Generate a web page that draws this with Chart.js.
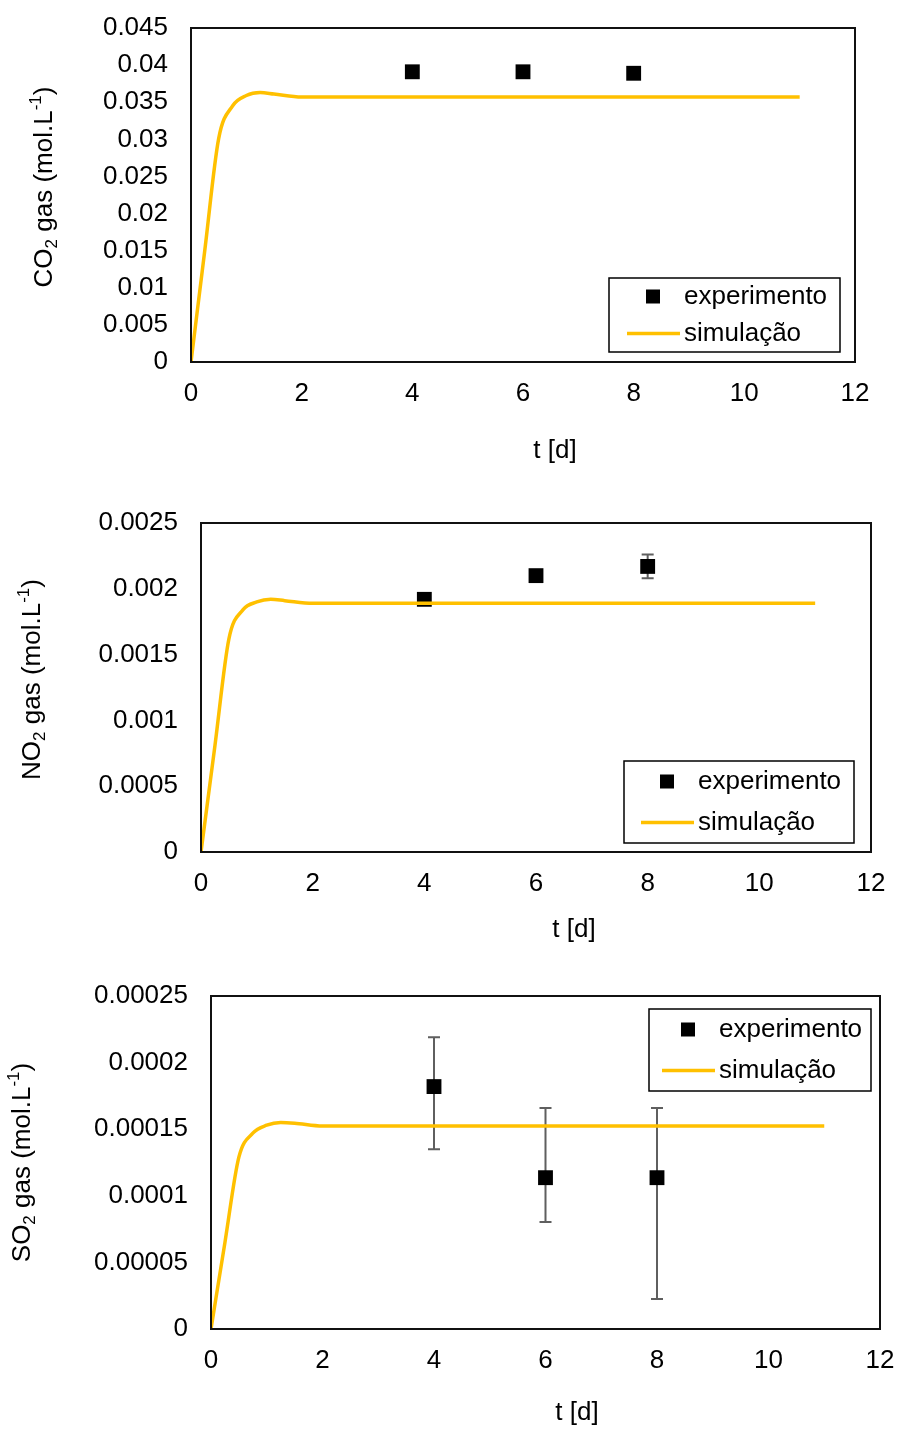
<!DOCTYPE html>
<html>
<head>
<meta charset="utf-8">
<script src="https://cdn.jsdelivr.net/npm/chart.js@4.4.1/dist/chart.umd.min.js"></script>
<style>
  body { margin: 0; background: #fff; width: 899px; height: 1430px; position: relative; overflow: hidden; }
  .box { position: absolute; left: 0; width: 899px; }
</style>
</head>
<body>
<div class="box" style="top:0;height:480px"><canvas id="co2Chart"></canvas></div>
<div class="box" style="top:480px;height:480px"><canvas id="no2Chart"></canvas></div>
<div class="box" style="top:960px;height:470px"><canvas id="so2Chart"></canvas></div>
<script>
// Data
const expDays = [4, 6, 8];
const simDays = [0, 0.25, 0.5, 0.75, 1, 1.25, 1.5, 2, 11];
const xTicks = ['0', '2', '4', '6', '8', '10', '12'];
const legendLabels = ['experimento', 'simulação'];

const co2Exp = [0.0391, 0.0391, 0.0389];
const co2Sim = [0, 0.0151, 0.0301, 0.0345, 0.0359, 0.0363, 0.0361, 0.0357, 0.0357];
const co2Ticks = ['0', '0.005', '0.01', '0.015', '0.02', '0.025', '0.03', '0.035', '0.04', '0.045'];

const no2Exp = [0.00192, 0.00210, 0.00217];
const no2ErrLow = [null, null, 0.00208];
const no2ErrHigh = [null, null, 0.00226];
const no2Sim = [0, 0.00081, 0.00162, 0.00184, 0.00190, 0.00192, 0.00191, 0.00189, 0.00189];
const no2Ticks = ['0', '0.0005', '0.001', '0.0015', '0.002', '0.0025'];

const so2Exp = [0.000182, 0.0001136, 0.0001136];
const so2ErrLow = [0.000135, 0.0000803, 0.0000225];
const so2ErrHigh = [0.000219, 0.000166, 0.000166];
const so2Sim = [0, 0.000065, 0.000129, 0.000147, 0.000153, 0.000155, 0.0001545, 0.0001524, 0.0001524];
const so2Ticks = ['0', '0.00005', '0.0001', '0.00015', '0.0002', '0.00025'];

Chart.defaults.font.family = "'Liberation Sans', Arial, sans-serif";
Chart.defaults.font.size = 26;
Chart.defaults.color = '#000';

const FONT = "26px 'Liberation Sans', Arial, sans-serif";
const SMALL = "17px 'Liberation Sans', Arial, sans-serif";

// frame, error bars, axis titles and the boxed legend, Excel style
const excelDecor = {
  id: 'excelDecor',
  beforeDatasetsDraw(chart, args, opts) {
    const { ctx, scales: { x, y } } = chart;
    if (!opts.errLow) return;
    ctx.save();
    ctx.strokeStyle = '#5f5f5f';
    ctx.lineWidth = 2;
    expDays.forEach((d, i) => {
      if (opts.errLow[i] == null) return;
      const px = x.getPixelForValue(d);
      const y1 = y.getPixelForValue(opts.errLow[i]);
      const y2 = y.getPixelForValue(opts.errHigh[i]);
      ctx.beginPath();
      ctx.moveTo(px, y1); ctx.lineTo(px, y2);
      ctx.moveTo(px - 6, y1); ctx.lineTo(px + 6, y1);
      ctx.moveTo(px - 6, y2); ctx.lineTo(px + 6, y2);
      ctx.stroke();
    });
    ctx.restore();
  },
  afterDraw(chart, args, opts) {
    const { ctx, chartArea: a } = chart;
    ctx.save();
    // plot frame
    ctx.strokeStyle = '#111';
    ctx.lineWidth = 2;
    ctx.strokeRect(a.left, a.top, a.right - a.left, a.bottom - a.top);

    // x title
    ctx.font = FONT;
    ctx.fillStyle = '#000';
    ctx.textAlign = 'center';
    ctx.textBaseline = 'middle';
    ctx.fillText('t [d]', opts.xTitle[0], opts.xTitle[1]);
    ctx.textAlign = 'left';

    // rotated y title with sub/superscript
    const parts = [
      { t: opts.gas, f: FONT, dy: 0 },
      { t: '2', f: SMALL, dy: 7 },
      { t: ' gas (mol.L', f: FONT, dy: 0 },
      { t: '-1', f: SMALL, dy: -9 },
      { t: ')', f: FONT, dy: 0 }
    ];
    let total = 0;
    parts.forEach(p => { ctx.font = p.f; p.w = ctx.measureText(p.t).width; total += p.w; });
    ctx.translate(opts.titleX, (a.top + a.bottom) / 2 + (opts.titleDy || 0));
    ctx.rotate(-Math.PI / 2);
    let cx = -total / 2;
    parts.forEach(p => { ctx.font = p.f; ctx.fillText(p.t, cx, p.dy); cx += p.w; });
    ctx.setTransform(1, 0, 0, 1, 0, 0);

    // legend box
    const L = opts.legend;
    ctx.strokeStyle = '#000';
    ctx.lineWidth = 1.5;
    ctx.strokeRect(L.left, L.top, L.width, L.height);
    const row1 = L.top + L.height * 0.25;
    const row2 = L.top + L.height * 0.75;
    ctx.fillStyle = '#000';
    ctx.fillRect(L.left + L.inset - 7, row1 - 7, 14, 14);
    ctx.strokeStyle = '#FFC000';
    ctx.lineWidth = 3.5;
    ctx.beginPath();
    ctx.moveTo(L.left + L.inset - 26, row2);
    ctx.lineTo(L.left + L.inset + 27, row2);
    ctx.stroke();
    ctx.font = FONT;
    ctx.fillText(legendLabels[0], L.left + L.inset + 31, row1);
    ctx.fillText(legendLabels[1], L.left + L.inset + 31, row2);
    ctx.restore();
  }
};

function makeChart(id, cfg) {
  const simPoints = simDays.map((d, i) => ({ x: d, y: cfg.sim[i] }));
  const expPoints = expDays.map((d, i) => ({ x: d, y: cfg.exp[i] }));
  return new Chart(document.getElementById(id), {
    type: 'line',
    data: {
      datasets: [{
        label: legendLabels[1],
        data: simPoints,
        borderColor: '#FFC000',
        borderWidth: 3.5,
        pointRadius: 0,
        cubicInterpolationMode: 'monotone',
        fill: false
      }, {
        label: legendLabels[0],
        data: expPoints,
        showLine: false,
        pointStyle: 'rect',
        pointRadius: 10.5,
        pointBackgroundColor: '#000',
        pointBorderWidth: 0
      }]
    },
    options: {
      responsive: true,
      maintainAspectRatio: false,
      animation: false,
      layout: { padding: { top: cfg.padTop, right: cfg.padRight, left: 0, bottom: 0 } },
      plugins: {
        legend: { display: false },
        tooltip: { enabled: false },
        excelDecor: {
          gas: cfg.gas,
          titleX: cfg.titleX,
          titleDy: cfg.titleDy,
          xTitle: cfg.xTitle,
          errLow: cfg.errLow,
          errHigh: cfg.errHigh,
          legend: cfg.legend
        }
      },
      scales: {
        x: {
          type: 'linear',
          min: 0, max: 12,
          grid: { display: false, drawTicks: false },
          border: { display: false },
          ticks: { stepSize: 2, padding: 16, maxRotation: 0, callback: (v, i) => xTicks[i] },
          afterFit: s => { s.height = cfg.xHeight; s.paddingLeft = 0; s.paddingRight = 0; }
        },
        y: {
          min: 0, max: cfg.yMax,
          grid: { display: false, drawTicks: false },
          border: { display: false },
          ticks: { stepSize: cfg.yStep, padding: 23, callback: (v, i) => cfg.yTicks[i] },
          afterFit: s => { s.width = cfg.plotLeft; s.paddingTop = 0; s.paddingBottom = 0; }
        }
      }
    },
    plugins: [excelDecor]
  });
}

makeChart('co2Chart', {
  gas: 'CO', sim: co2Sim, exp: co2Exp, yTicks: co2Ticks, yMax: 0.045, yStep: 0.005,
  padTop: 28, padRight: 44, plotLeft: 191, xHeight: 118,
  titleX: 45, titleDy: -8, xTitle: [555, 451],
  legend: { left: 609, top: 278, width: 231, height: 74, inset: 44 }
});

makeChart('no2Chart', {
  gas: 'NO', sim: no2Sim, exp: no2Exp, yTicks: no2Ticks, yMax: 0.0025, yStep: 0.0005,
  errLow: no2ErrLow, errHigh: no2ErrHigh,
  padTop: 43, padRight: 28, plotLeft: 201, xHeight: 108,
  titleX: 33, titleDy: -8, xTitle: [574, 450],
  legend: { left: 624, top: 281, width: 230, height: 82, inset: 43 }
});

makeChart('so2Chart', {
  gas: 'SO', sim: so2Sim, exp: so2Exp, yTicks: so2Ticks, yMax: 0.00025, yStep: 0.00005,
  errLow: so2ErrLow, errHigh: so2ErrHigh,
  padTop: 36, padRight: 19, plotLeft: 211, xHeight: 101,
  titleX: 23, titleDy: 0, xTitle: [577, 453],
  legend: { left: 649, top: 49, width: 222, height: 82, inset: 39 }
});
</script>
</body>
</html>
